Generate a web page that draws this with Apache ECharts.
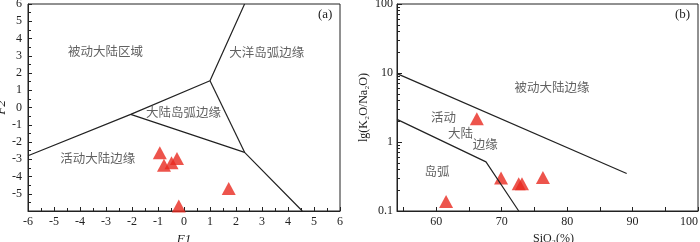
<!DOCTYPE html>
<html><head><meta charset="utf-8">
<script src="https://cdn.jsdelivr.net/npm/echarts@6/dist/echarts.min.js"></script>
<style>html,body{margin:0;padding:0;background:#fff}#c{width:700px;height:242px}</style>
</head><body><div id="c"></div>
<script>
// ---------- Panel (a): discriminant functions F1 / F2 ----------
const aSamplesF1 = [-0.93, -0.77, -0.48, -0.27, 1.72, -0.2];
const aSamplesF2 = [-2.63, -3.35, -3.21, -2.96, -4.69, -5.71];
const aBoundary1 = [[-6, -2.8], [-2.05, -0.4], [1, 1.55], [2.33, 6]];
const aBoundary2 = [[-2.05, -0.4], [2.33, -2.6], [4.55, -6]];
const aBoundary3 = [[1, 1.55], [2.33, -2.6]];
const aRegionNames = ['被动大陆区域', '大洋岛弧边缘', '大陆岛弧边缘', '活动大陆边缘'];
const aRegionF1 = [-3.02, 3.18, -0.02, -3.32];
const aRegionF2 = [3.16, 3.1, -0.34, -3.04];

// ---------- Panel (b): K2O/Na2O vs SiO2 ----------
const bSiO2 = [61.5, 66.2, 69.9, 72.6, 73.1, 76.3];
const bRatio = [0.137, 2.17, 0.30, 0.248, 0.248, 0.305];
const bBoundaryUpper = [[54, 9.8], [89.1, 0.35]];
const bBoundaryLower = [[54, 2.13], [67.6, 0.515], [72.6, 0.1]];
const bRegionNames = ['被动大陆边缘', '活动', '大陆', '边缘', '岛弧'];
const bRegionSiO2 = [77.7, 61.1, 63.7, 67.5, 60.1];
const bRegionRatio = [5.83, 2.21, 1.29, 0.87, 0.36];
const bXTickLabels = [60, 70, 80, 90, 100];
const bXTicks = [55, 60, 65, 70, 75, 80, 85, 90, 95, 100];

const SERIF = '"Liberation Serif", "Times New Roman", serif';
const CJK = '"Liberation Serif", "Noto Sans CJK SC", sans-serif';
const INK = '#222';
const RED = '#e8291f';

const zip = (a, b) => a.map((v, i) => [v, b[i]]);

const tick = (len, extra) => Object.assign({ show: true, inside: true, length: len,
  lineStyle: { color: INK } }, extra || {});
const minor = (n) => ({ show: true, splitNumber: n, length: 3, lineStyle: { color: INK } });
const label = (extra) => Object.assign({ color: INK, fontFamily: SERIF, fontSize: 12 }, extra || {});
const line = () => ({ show: true, onZero: false, lineStyle: { color: INK } });

function lineSeries(data, xi) {
  return {
    type: 'line', xAxisIndex: xi, yAxisIndex: xi, data: data,
    symbol: 'none', silent: true,
    lineStyle: { color: INK, width: 1.2 }
  };
}
function textSeries(names, xs, ys, xi) {
  return {
    type: 'scatter', xAxisIndex: xi, yAxisIndex: xi, silent: true,
    data: names.map((n, i) => ({ value: [xs[i], ys[i]], name: n })),
    symbolSize: 1, itemStyle: { color: 'rgba(0,0,0,0)' },
    label: { show: true, position: 'inside', formatter: p => p.name,
      color: '#3a3a3a', fontFamily: CJK, fontSize: 12.5 }
  };
}
function markerSeries(data, xi) {
  return {
    type: 'scatter', xAxisIndex: xi, yAxisIndex: xi, data: data,
    symbol: 'triangle', symbolSize: [14, 13], itemStyle: { color: RED }
  };
}

const option = {
  animation: false,
  grid: [
    { left: 28, top: 4, width: 312, height: 207, show: true, borderColor: INK,
      outerBoundsMode: 'none', containLabel: false },
    { left: 397, top: 4, width: 301, height: 207, show: true, borderColor: INK,
      outerBoundsMode: 'none', containLabel: false }
  ],
  xAxis: [
    { type: 'value', gridIndex: 0, min: -6, max: 6, interval: 1,
      axisLine: line(), axisTick: tick(4, { interval: 0 }), minorTick: minor(2),
      splitLine: { show: false },
      axisLabel: label({ margin: 5 }),
      name: 'F1', nameLocation: 'middle', nameGap: 19,
      nameTextStyle: { color: INK, fontFamily: SERIF, fontSize: 13, fontStyle: 'italic' } },
    { type: 'value', gridIndex: 1, min: 54, max: 100,
      axisLine: line(), axisTick: tick(4, { customValues: bXTicks }),
      splitLine: { show: false },
      axisLabel: label({ margin: 5, customValues: bXTickLabels, alignMaxLabel: 'right' }),
      name: 'SiO₂(%)', nameLocation: 'middle', nameGap: 19,
      nameTextStyle: { color: INK, fontFamily: SERIF, fontSize: 12, padding: [0, 0, 0, 12] } }
  ],
  yAxis: [
    { type: 'value', gridIndex: 0, min: -6, max: 6, interval: 1,
      axisLine: line(), axisTick: tick(4, { interval: 0 }), minorTick: minor(2),
      splitLine: { show: false },
      axisLabel: label({ margin: 6, showMinLabel: false }),
      name: 'F2', nameLocation: 'middle', nameGap: 17,
      nameTextStyle: { color: INK, fontFamily: SERIF, fontSize: 13, fontStyle: 'italic' } },
    { type: 'log', gridIndex: 1, min: 0.1, max: 100,
      axisLine: line(), axisTick: tick(5), minorTick: minor(9),
      splitLine: { show: false },
      axisLabel: label({ margin: 4 }),
      name: 'lg(K₂O/Na₂O)', nameLocation: 'middle', nameGap: 27,
      nameTextStyle: { color: INK, fontFamily: SERIF, fontSize: 12 } }
  ],
  series: [
    lineSeries(aBoundary1, 0), lineSeries(aBoundary2, 0), lineSeries(aBoundary3, 0),
    textSeries(aRegionNames, aRegionF1, aRegionF2, 0),
    markerSeries(zip(aSamplesF1, aSamplesF2), 0),
    lineSeries(bBoundaryUpper, 1), lineSeries(bBoundaryLower, 1),
    textSeries(bRegionNames, bRegionSiO2, bRegionRatio, 1),
    markerSeries(zip(bSiO2, bRatio), 1)
  ],
  graphic: [
    { type: 'text', left: 318, top: 8, style: { text: '(a)', fill: INK, font: '13px ' + SERIF } },
    { type: 'text', left: 675, top: 8, style: { text: '(b)', fill: INK, font: '13px ' + SERIF } }
  ]
};

const chart = echarts.init(document.getElementById('c'));
chart.setOption(option);
</script>
</body></html>
